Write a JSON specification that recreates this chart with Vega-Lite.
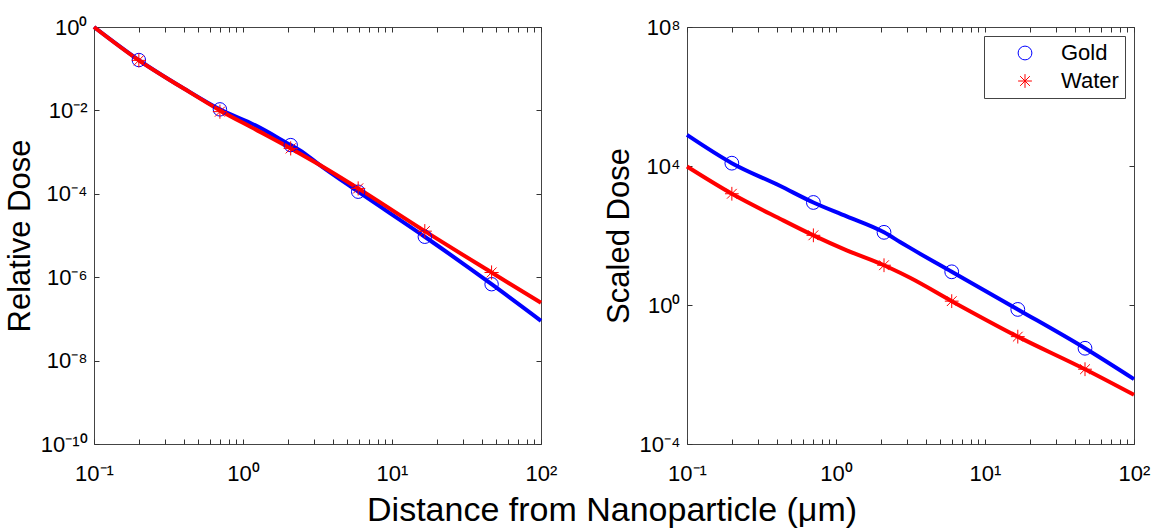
{
  "$schema": "https://vega.github.io/schema/vega-lite/v6.json",
  "background": "white",
  "padding": {"left": 3, "top": 15, "right": 5, "bottom": 5},
  "bounds": "flush",
  "spacing": 146,
  "config": {
    "font": "Liberation Sans",
    "view": {"stroke": "#444", "strokeWidth": 1},
    "axis": {
      "domain": false,
      "grid": false,
      "tickColor": "#333",
      "tickWidth": 1,
      "tickSize": -5,
      "labelFont": "Liberation Sans",
      "labelFontSize": 22,
      "labelColor": "#000",
      "labelOverlap": false,
      "labelFlush": false,
      "titleFont": "Liberation Sans",
      "titleFontSize": 31,
      "titleFontWeight": "normal",
      "titleColor": "#000"
    }
  },
  "title": {
    "text": "Distance from Nanoparticle (μm)",
    "orient": "bottom",
    "anchor": "middle",
    "fontSize": 34,
    "fontWeight": "normal",
    "font": "Liberation Sans",
    "color": "#000",
    "offset": 9,
    "dx": 35
  },
  "resolve": {"scale": {"shape": "independent", "stroke": "independent"}, "legend": {"shape": "independent", "stroke": "independent"}},
  "datasets": {
    "lines": [
      {"panel": "left", "series": "Gold", "x": 0.1, "y": 1},
      {"panel": "left", "series": "Gold", "x": 0.2, "y": 0.1614},
      {"panel": "left", "series": "Gold", "x": 0.4, "y": 0.0338},
      {"panel": "left", "series": "Gold", "x": 0.7, "y": 0.01059},
      {"panel": "left", "series": "Gold", "x": 1.23, "y": 0.004256},
      {"panel": "left", "series": "Gold", "x": 2.09, "y": 0.001472},
      {"panel": "left", "series": "Gold", "x": 2.4, "y": 0.001117},
      {"panel": "left", "series": "Gold", "x": 3.28, "y": 0.000488},
      {"panel": "left", "series": "Gold", "x": 5.93, "y": 0.0001122},
      {"panel": "left", "series": "Gold", "x": 16.6, "y": 9.33e-6},
      {"panel": "left", "series": "Gold", "x": 46.6, "y": 6.79e-7},
      {"panel": "left", "series": "Gold", "x": 100, "y": 8.99e-8},
      {"panel": "left", "series": "Water", "x": 0.1, "y": 1},
      {"panel": "left", "series": "Water", "x": 0.2, "y": 0.1585},
      {"panel": "left", "series": "Water", "x": 0.4, "y": 0.0335},
      {"panel": "left", "series": "Water", "x": 0.7, "y": 0.01},
      {"panel": "left", "series": "Water", "x": 1.23, "y": 0.00341},
      {"panel": "left", "series": "Water", "x": 2.09, "y": 0.001227},
      {"panel": "left", "series": "Water", "x": 2.4, "y": 0.000931},
      {"panel": "left", "series": "Water", "x": 3.28, "y": 0.00049},
      {"panel": "left", "series": "Water", "x": 5.93, "y": 0.0001346},
      {"panel": "left", "series": "Water", "x": 16.6, "y": 1.271e-5},
      {"panel": "left", "series": "Water", "x": 46.6, "y": 1.297e-6},
      {"panel": "left", "series": "Water", "x": 100, "y": 2.432e-7},
      {"panel": "right", "series": "Gold", "x": 0.1, "y": 78200},
      {"panel": "right", "series": "Gold", "x": 0.2, "y": 12050},
      {"panel": "right", "series": "Gold", "x": 0.42, "y": 2692},
      {"panel": "right", "series": "Gold", "x": 0.705, "y": 893},
      {"panel": "right", "series": "Gold", "x": 1.18, "y": 354.8},
      {"panel": "right", "series": "Gold", "x": 2.1, "y": 123.3},
      {"panel": "right", "series": "Gold", "x": 2.69, "y": 65.3},
      {"panel": "right", "series": "Gold", "x": 3.14, "y": 43.95},
      {"panel": "right", "series": "Gold", "x": 5.98, "y": 9.02},
      {"panel": "right", "series": "Gold", "x": 16.6, "y": 0.746},
      {"panel": "right", "series": "Gold", "x": 46.9, "y": 0.0569},
      {"panel": "right", "series": "Gold", "x": 100, "y": 0.00735},
      {"panel": "right", "series": "Water", "x": 0.1, "y": 9638},
      {"panel": "right", "series": "Water", "x": 0.2, "y": 1589},
      {"panel": "right", "series": "Water", "x": 0.42, "y": 304.8},
      {"panel": "right", "series": "Water", "x": 0.705, "y": 101.2},
      {"panel": "right", "series": "Water", "x": 1.18, "y": 37.5},
      {"panel": "right", "series": "Water", "x": 2.1, "y": 13.93},
      {"panel": "right", "series": "Water", "x": 2.69, "y": 8.43},
      {"panel": "right", "series": "Water", "x": 3.14, "y": 6.05},
      {"panel": "right", "series": "Water", "x": 5.98, "y": 1.291},
      {"panel": "right", "series": "Water", "x": 16.6, "y": 0.123},
      {"panel": "right", "series": "Water", "x": 46.9, "y": 0.01419},
      {"panel": "right", "series": "Water", "x": 100, "y": 0.0026}
    ],
    "markers": [
      {"panel": "left", "series": "Gold", "x": 0.2, "y": 0.1614},
      {"panel": "left", "series": "Gold", "x": 0.7, "y": 0.01059},
      {"panel": "left", "series": "Gold", "x": 2.09, "y": 0.001472},
      {"panel": "left", "series": "Gold", "x": 5.93, "y": 0.0001122},
      {"panel": "left", "series": "Gold", "x": 16.6, "y": 9.33e-6},
      {"panel": "left", "series": "Gold", "x": 46.6, "y": 6.79e-7},
      {"panel": "left", "series": "Water", "x": 0.2, "y": 0.1585},
      {"panel": "left", "series": "Water", "x": 0.7, "y": 0.00933},
      {"panel": "left", "series": "Water", "x": 2.09, "y": 0.001227},
      {"panel": "left", "series": "Water", "x": 5.93, "y": 0.0001346},
      {"panel": "left", "series": "Water", "x": 16.6, "y": 1.271e-5},
      {"panel": "left", "series": "Water", "x": 46.6, "y": 1.297e-6},
      {"panel": "right", "series": "Gold", "x": 0.2, "y": 12050},
      {"panel": "right", "series": "Gold", "x": 0.705, "y": 893},
      {"panel": "right", "series": "Gold", "x": 2.1, "y": 123.3},
      {"panel": "right", "series": "Gold", "x": 5.98, "y": 9.02},
      {"panel": "right", "series": "Gold", "x": 16.6, "y": 0.746},
      {"panel": "right", "series": "Gold", "x": 46.9, "y": 0.0569},
      {"panel": "right", "series": "Water", "x": 0.2, "y": 1589},
      {"panel": "right", "series": "Water", "x": 0.705, "y": 101.2},
      {"panel": "right", "series": "Water", "x": 2.1, "y": 13.93},
      {"panel": "right", "series": "Water", "x": 5.98, "y": 1.291},
      {"panel": "right", "series": "Water", "x": 16.6, "y": 0.123},
      {"panel": "right", "series": "Water", "x": 46.9, "y": 0.01419}
    ]
  },
  "hconcat": [
    {
      "width": 447,
      "height": 417,
      "resolve": {"axis": {"x": "independent", "y": "independent"}},
      "layer": [
        {
          "data": {"name": "lines"},
          "transform": [{"filter": "datum.panel == 'left' && datum.series == 'Gold'"}],
          "mark": {"type": "line", "color": "#0000ff", "strokeWidth": 4, "interpolate": "monotone"},
          "encoding": {
            "x": {"field": "x", "type": "quantitative", "scale": {"type": "log", "domain": [0.1, 100], "nice": false},
              "axis": {"orient": "bottom", "title": null, "labelPadding": 24,
                "values": [0.1,0.2,0.3,0.4,0.5,0.6,0.7,0.8,0.9,1,2,3,4,5,6,7,8,9,10,20,30,40,50,60,70,80,90,100],
                "labelExpr": "datum.value == 0.1 ? '10⁻¹' : datum.value == 1 ? '10⁰' : datum.value == 10 ? '10¹' : datum.value == 100 ? '10²' : ''"}},
            "y": {"field": "y", "type": "quantitative", "scale": {"type": "log", "domain": [1e-10, 1], "nice": false},
              "axis": {"orient": "left", "title": "Relative Dose", "labelPadding": 12, "titlePadding": 4,
                "values": [1e-10, 1e-8, 1e-6, 1e-4, 1e-2, 1],
                "labelExpr": "datum.value == 1 ? '10⁰' : datum.value == 0.01 ? '10⁻²' : datum.value == 0.0001 ? '10⁻⁴' : datum.value == 0.000001 ? '10⁻⁶' : datum.value == 1e-8 ? '10⁻⁸' : '10⁻¹⁰'"}}
          }
        },
        {
          "data": {"name": "lines"},
          "transform": [{"filter": "datum.panel == 'left' && datum.series == 'Water'"}],
          "mark": {"type": "line", "color": "#ff0000", "strokeWidth": 4, "interpolate": "monotone"},
          "encoding": {
            "x": {"field": "x", "type": "quantitative",
              "axis": {"orient": "top", "title": null, "labels": false,
                "values": [0.1,0.2,0.3,0.4,0.5,0.6,0.7,0.8,0.9,1,2,3,4,5,6,7,8,9,10,20,30,40,50,60,70,80,90,100]}},
            "y": {"field": "y", "type": "quantitative",
              "axis": {"orient": "right", "title": null, "labels": false, "values": [1e-10, 1e-8, 1e-6, 1e-4, 1e-2, 1]}}
          }
        },
        {
          "data": {"name": "markers"},
          "transform": [{"filter": "datum.panel == 'left' && datum.series == 'Gold'"}],
          "mark": {"type": "point", "shape": "circle", "filled": false, "stroke": "#0000ff", "strokeWidth": 1, "size": 180, "opacity": 1},
          "encoding": {
            "x": {"field": "x", "type": "quantitative", "axis": null},
            "y": {"field": "y", "type": "quantitative", "axis": null}
          }
        },
        {
          "data": {"name": "markers"},
          "transform": [{"filter": "datum.panel == 'left' && datum.series == 'Water'"}],
          "mark": {"type": "point", "shape": "M0,-1L0,1M-1,0L1,0M-0.7071,-0.7071L0.7071,0.7071M-0.7071,0.7071L0.7071,-0.7071", "filled": false, "stroke": "#ff0000", "strokeWidth": 1, "size": 200, "opacity": 1},
          "encoding": {
            "x": {"field": "x", "type": "quantitative", "axis": null},
            "y": {"field": "y", "type": "quantitative", "axis": null}
          }
        }
      ]
    },
    {
      "width": 447,
      "height": 417,
      "resolve": {"axis": {"x": "independent", "y": "independent"}},
      "layer": [
        {
          "data": {"name": "lines"},
          "transform": [{"filter": "datum.panel == 'right' && datum.series == 'Gold'"}],
          "mark": {"type": "line", "color": "#0000ff", "strokeWidth": 4, "interpolate": "monotone"},
          "encoding": {
            "x": {"field": "x", "type": "quantitative", "scale": {"type": "log", "domain": [0.1, 100], "nice": false},
              "axis": {"orient": "bottom", "title": null, "labelPadding": 24,
                "values": [0.1,0.2,0.3,0.4,0.5,0.6,0.7,0.8,0.9,1,2,3,4,5,6,7,8,9,10,20,30,40,50,60,70,80,90,100],
                "labelExpr": "datum.value == 0.1 ? '10⁻¹' : datum.value == 1 ? '10⁰' : datum.value == 10 ? '10¹' : datum.value == 100 ? '10²' : ''"}},
            "y": {"field": "y", "type": "quantitative", "scale": {"type": "log", "domain": [1e-4, 1e8], "nice": false},
              "axis": {"orient": "left", "title": "Scaled Dose", "labelPadding": 12, "titlePadding": 4,
                "values": [1e-4, 1, 1e4, 1e8],
                "labelExpr": "datum.value == 1 ? '10⁰' : datum.value == 10000 ? '10⁴' : datum.value == 100000000 ? '10⁸' : '10⁻⁴'"}}
          }
        },
        {
          "data": {"name": "lines"},
          "transform": [{"filter": "datum.panel == 'right' && datum.series == 'Water'"}],
          "mark": {"type": "line", "color": "#ff0000", "strokeWidth": 4, "interpolate": "monotone"},
          "encoding": {
            "x": {"field": "x", "type": "quantitative",
              "axis": {"orient": "top", "title": null, "labels": false,
                "values": [0.1,0.2,0.3,0.4,0.5,0.6,0.7,0.8,0.9,1,2,3,4,5,6,7,8,9,10,20,30,40,50,60,70,80,90,100]}},
            "y": {"field": "y", "type": "quantitative",
              "axis": {"orient": "right", "title": null, "labels": false, "values": [1e-4, 1, 1e4, 1e8]}}
          }
        },
        {
          "data": {"name": "markers"},
          "transform": [{"filter": "datum.panel == 'right'"}],
          "mark": {"type": "point", "filled": false, "strokeWidth": 1, "size": 190, "opacity": 1},
          "encoding": {
            "x": {"field": "x", "type": "quantitative", "axis": null},
            "y": {"field": "y", "type": "quantitative", "axis": null},
            "stroke": {"field": "series", "type": "nominal",
              "scale": {"domain": ["Gold", "Water"], "range": ["#0000ff", "#ff0000"]},
              "legend": {"title": null, "orient": "top-right", "offset": 9}},
            "shape": {"field": "series", "type": "nominal",
              "scale": {"domain": ["Gold", "Water"], "range": ["circle", "M0,-1L0,1M-1,0L1,0M-0.7071,-0.7071L0.7071,0.7071M-0.7071,0.7071L0.7071,-0.7071"]},
              "legend": {"title": null, "orient": "top-right", "offset": 9, "strokeColor": "#444", "fillColor": "white",
                "padding": 6, "labelFontSize": 22, "labelFont": "Liberation Sans", "labelColor": "#000",
                "symbolSize": 190, "symbolStrokeWidth": 1, "symbolOffset": 24, "labelOffset": 25, "rowPadding": 6}}
          }
        }
      ]
    }
  ]
}
